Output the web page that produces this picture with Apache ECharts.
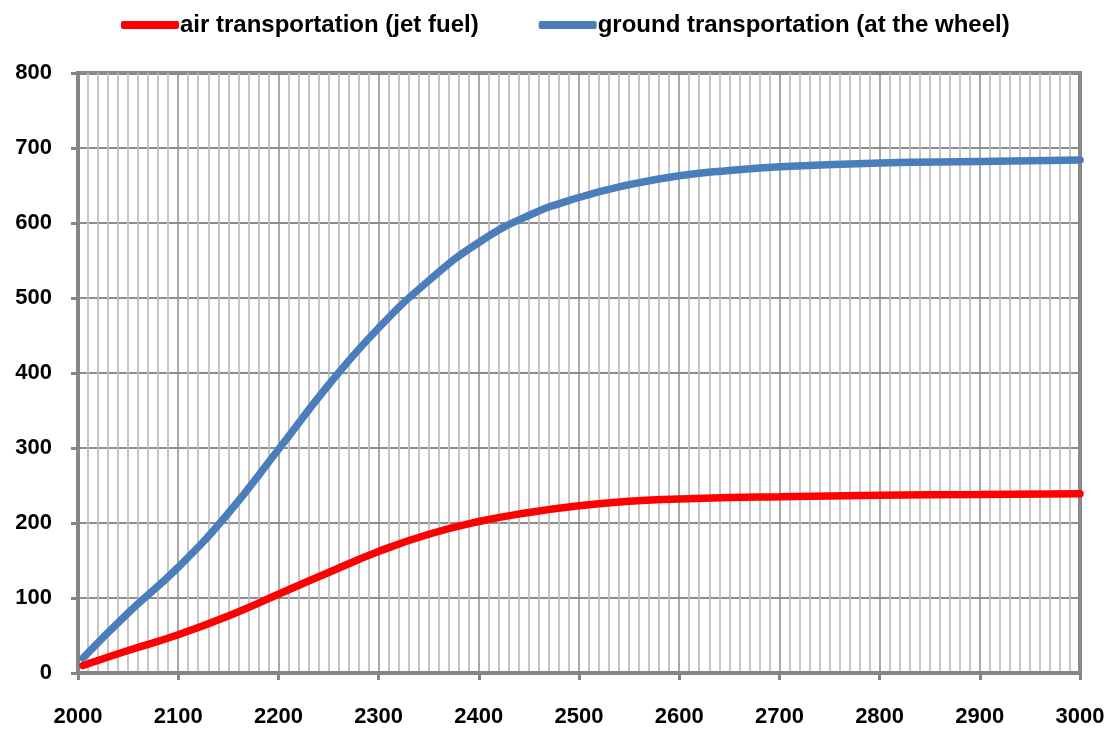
<!DOCTYPE html>
<html>
<head>
<meta charset="utf-8">
<script src="https://cdn.jsdelivr.net/npm/echarts@6/dist/echarts.min.js"></script>
<style>
  html, body { margin: 0; padding: 0; background: #fff; }
  #canvas { width: 1112px; height: 729px; }
</style>
</head>
<body>
<div id="canvas"></div>
<script>
var years = [2005, 2050, 2100, 2150, 2200, 2250, 2300, 2350, 2400, 2450, 2500, 2550, 2600, 2650, 2700, 2800, 2900, 3000];
var air = [10, 30, 51, 76, 105, 134, 162, 185, 202, 214, 223, 229, 232, 234, 235, 237, 238, 239];
var ground = [20, 80, 141, 213, 298, 384, 460, 523, 574, 610, 634, 651, 663, 670, 675, 680, 682, 684];
var seriesNames = ['air transportation (jet fuel)', 'ground transportation (at the wheel)'];

function pairs(vals) {
    return years.map(function (y, i) { return [y, vals[i]]; });
}

function drawChart() {
    var myChart = echarts.init(document.getElementById('canvas'));

    var labelFont = { color: '#000', fontWeight: 'bold', fontSize: 22, fontFamily: 'Liberation Sans' };

    var option = {
        animation: false,
        legend: {
            top: 8,
            left: 116,
            itemWidth: 58,
            itemHeight: 8,
            itemGap: 60,
            icon: 'roundRect',
            textStyle: { color: '#000', fontWeight: 'bold', fontSize: 24, fontFamily: 'Liberation Sans', padding: [0, 0, 0, -4] },
            data: seriesNames
        },
        grid: {
            left: 78, right: 32, top: 73, bottom: 56,
            show: true, borderColor: '#868686', borderWidth: 4
        },
        xAxis: {
            type: 'value',
            min: 2000, max: 3000, interval: 100,
            axisLine: { show: true, lineStyle: { color: '#868686', width: 4 } },
            axisTick: { show: true, length: 7, lineStyle: { color: '#868686', width: 3 } },
            axisLabel: Object.assign({ margin: 33, formatter: function (v) { return String(v); } }, labelFont),
            splitLine: { show: true, lineStyle: { color: '#8c8c8c', width: 1.5 } },
            minorTick: { show: false, splitNumber: 10 },
            minorSplitLine: { show: true, lineStyle: { color: '#c0c0c0', width: 1.8 } }
        },
        yAxis: {
            type: 'value',
            min: 0, max: 800, interval: 100,
            axisLine: { show: true, lineStyle: { color: '#868686', width: 4 } },
            axisTick: { show: true, length: 7, lineStyle: { color: '#868686', width: 3 } },
            axisLabel: Object.assign({ margin: 26 }, labelFont),
            splitLine: { show: true, lineStyle: { color: '#8c8c8c', width: 2 } }
        },
        series: [{
            name: seriesNames[0],
            type: 'line',
            smooth: 0.5,
            showSymbol: false,
            color: '#ff0000',
            lineStyle: { width: 7.5, cap: 'round' },
            data: pairs(air)
        }, {
            name: seriesNames[1],
            type: 'line',
            smooth: 0.5,
            showSymbol: false,
            color: '#4a7ebb',
            lineStyle: { width: 7.5, cap: 'round' },
            data: pairs(ground)
        }]
    };

    myChart.setOption(option);
}

drawChart();
</script>
</body>
</html>
